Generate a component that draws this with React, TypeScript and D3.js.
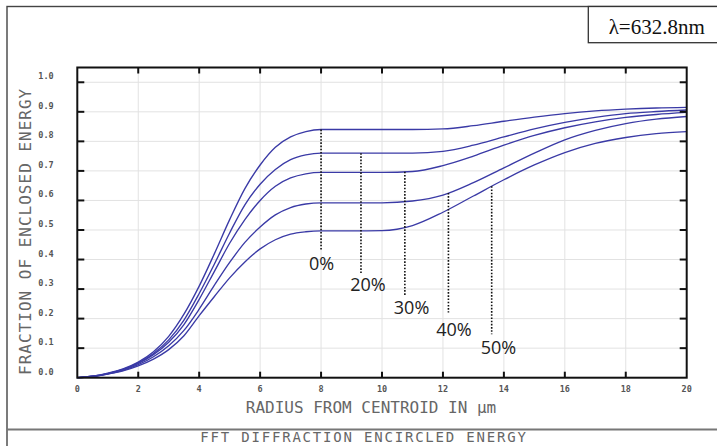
import React from "react";
import * as d3 from "d3";

const radius = [0, 0.5, 1, 1.5, 2, 2.5, 3, 3.5, 4, 4.5, 5, 5.5, 6, 6.5, 7, 7.5, 8, 9, 10, 11, 12, 13, 14, 15, 16, 17, 18, 19, 20];
const ee0 = [0, 0.005, 0.015, 0.03, 0.053, 0.088, 0.14, 0.215, 0.31, 0.42, 0.535, 0.64, 0.72, 0.78, 0.815, 0.833, 0.84, 0.84, 0.84, 0.84, 0.842, 0.853, 0.868, 0.882, 0.894, 0.903, 0.909, 0.913, 0.915];
const ee20 = [0, 0.005, 0.014, 0.028, 0.05, 0.082, 0.128, 0.195, 0.285, 0.385, 0.49, 0.585, 0.655, 0.705, 0.738, 0.754, 0.76, 0.76, 0.76, 0.76, 0.766, 0.787, 0.815, 0.842, 0.864, 0.881, 0.894, 0.901, 0.906];
const ee30 = [0, 0.005, 0.014, 0.027, 0.048, 0.078, 0.12, 0.18, 0.265, 0.36, 0.455, 0.535, 0.6, 0.648, 0.676, 0.69, 0.695, 0.695, 0.695, 0.698, 0.718, 0.75, 0.787, 0.82, 0.846, 0.866, 0.881, 0.891, 0.898];
const ee40 = [0, 0.004, 0.013, 0.025, 0.044, 0.071, 0.108, 0.16, 0.232, 0.313, 0.39, 0.458, 0.51, 0.551, 0.576, 0.588, 0.592, 0.592, 0.592, 0.598, 0.618, 0.66, 0.71, 0.76, 0.805, 0.837, 0.86, 0.875, 0.884];
const ee50 = [0, 0.004, 0.012, 0.023, 0.04, 0.063, 0.095, 0.142, 0.21, 0.275, 0.338, 0.392, 0.436, 0.467, 0.486, 0.494, 0.497, 0.497, 0.498, 0.515, 0.56, 0.615, 0.67, 0.72, 0.762, 0.793, 0.813, 0.826, 0.833];
const series = [ee0, ee20, ee30, ee40, ee50];

const obscurationLabels = ["0%", "20%", "30%", "40%", "50%"];
const markerX = [8.0, 9.31, 10.75, 12.18, 13.6];
const markerBottom = [0.432, 0.354, 0.28, 0.221, 0.147];
const labelX = [8.02, 9.54, 10.97, 12.36, 13.82];
const labelY = [0.385, 0.314, 0.237, 0.164, 0.103];

const xTicks = [0, 2, 4, 6, 8, 10, 12, 14, 16, 18, 20];
const yTicks = [0, 0.1, 0.2, 0.3, 0.4, 0.5, 0.6, 0.7, 0.8, 0.9, 1.0];

const W = 717;
const H = 446;
const x = d3.scaleLinear().domain([0, 20]).range([77.3, 686.7]);
const y = d3.scaleLinear().domain([0, 1.05]).range([377.7, 67.5]);

function valueAt(s: number[], xv: number): number {
  const i = d3.bisectLeft(radius, xv);
  if (i <= 0) return s[0];
  if (i >= radius.length) return s[s.length - 1];
  const t = (xv - radius[i - 1]) / (radius[i] - radius[i - 1]);
  return d3.interpolateNumber(s[i - 1], s[i])(t);
}

export default function App() {
  const line = d3
    .line<number>()
    .x((_, i) => x(radius[i]))
    .y((d) => y(d))
    .curve(d3.curveMonotoneX);
  const [x0, x1] = x.range();
  const [y0, y1] = y.range();
  const tickFont = "'DejaVu Sans Mono', monospace";
  return (
    <svg
      width={W}
      height={H}
      style={{ position: "absolute", left: 0, top: 0, background: "#fff" }}
    >
      <rect x={0} y={0} width={W} height={H} fill="#fff" />
      {/* outer frame */}
      <rect x={7} y={6.5} width={W + 20} height={H + 20} fill="none" stroke="#444" strokeWidth={1.4} />
      <line x1={7} x2={W} y1={429.5} y2={429.5} stroke="#777" strokeWidth={2.2} />
      {/* wavelength box */}
      <rect x={588.3} y={6.5} width={140} height={36.2} fill="#fff" stroke="#333" strokeWidth={1.3} />
      <text x={656.7} y={34} textAnchor="middle" fontFamily="'Liberation Serif', 'Times New Roman', serif" fontSize={21} fill="#111">
        λ=632.8nm
      </text>

      {/* grid */}
      {xTicks.slice(1, -1).map((t) => (
        <line key={"gx" + t} x1={x(t)} x2={x(t)} y1={y1} y2={y0} stroke="#e2e2e2" strokeWidth={1} />
      ))}
      {yTicks.slice(1).map((t) => (
        <line key={"gy" + t} x1={x0} x2={x1} y1={y(t)} y2={y(t)} stroke="#e2e2e2" strokeWidth={1} />
      ))}

      {/* curves */}
      {series.map((s, i) => (
        <path key={"s" + i} d={line(s) || ""} fill="none" stroke="#3a3aa6" strokeWidth={1.35} />
      ))}

      {/* dotted markers */}
      {markerX.map((mx, i) => (
        <line
          key={"m" + i}
          x1={x(mx)}
          x2={x(mx)}
          y1={y(valueAt(series[i], mx))}
          y2={y(markerBottom[i])}
          stroke="#111"
          strokeWidth={1.6}
          strokeDasharray="1.6 1.6"
        />
      ))}
      {obscurationLabels.map((lab, i) => (
        <text
          key={"l" + i}
          x={x(labelX[i])}
          y={y(labelY[i])}
          dy="0.35em"
          textAnchor="middle"
          fontFamily="'Open Sans', sans-serif"
          fontSize={18}
          fill="#222"
        >
          {lab}
        </text>
      ))}

      {/* plot border */}
      <rect x={x0} y={y1} width={x1 - x0} height={y0 - y1} fill="none" stroke="#111" strokeWidth={2} />
      {/* ticks */}
      {xTicks.slice(1, -1).map((t) => (
        <g key={"tx" + t}>
          <line x1={x(t)} x2={x(t)} y1={y0} y2={y0 - 6} stroke="#111" strokeWidth={2} />
          <line x1={x(t)} x2={x(t)} y1={y1} y2={y1 + 6} stroke="#111" strokeWidth={2} />
        </g>
      ))}
      {yTicks.slice(1).map((t) => (
        <g key={"ty" + t}>
          <line x1={x0} x2={x0 + 7} y1={y(t)} y2={y(t)} stroke="#111" strokeWidth={2} />
          <line x1={x1} x2={x1 - 7} y1={y(t)} y2={y(t)} stroke="#111" strokeWidth={2} />
        </g>
      ))}

      {/* tick labels */}
      {xTicks.map((t) => (
        <text key={"xl" + t} x={x(t)} y={389} dy="0.35em" textAnchor="middle" fontFamily={tickFont} fontWeight="bold" fontSize={8.5} fill="#555">
          {String(t)}
        </text>
      ))}
      {yTicks.map((t) => (
        <text key={"yl" + t} x={46} y={y(t) - 6} dy="0.35em" textAnchor="middle" fontFamily={tickFont} fontWeight="bold" fontSize={8.5} fill="#555">
          {d3.format(".1f")(t)}
        </text>
      ))}

      {/* axis titles */}
      <text
        transform={`translate(25,${(y0 + 85) / 2}) rotate(-90)`}
        textAnchor="middle"
        dy="0.35em"
        fontFamily={tickFont}
        fontSize={16}
        letterSpacing={1}
        fill="#666"
      >
        FRACTION OF ENCLOSED ENERGY
      </text>
      <text x={371} y={413} textAnchor="middle" fontFamily={tickFont} fontSize={16} fill="#666">
        RADIUS FROM CENTROID IN μm
      </text>
      <text x={364} y={442.3} textAnchor="middle" fontFamily={tickFont} fontSize={14} letterSpacing={1.8} fill="#666">
        FFT DIFFRACTION ENCIRCLED ENERGY
      </text>
    </svg>
  );
}
